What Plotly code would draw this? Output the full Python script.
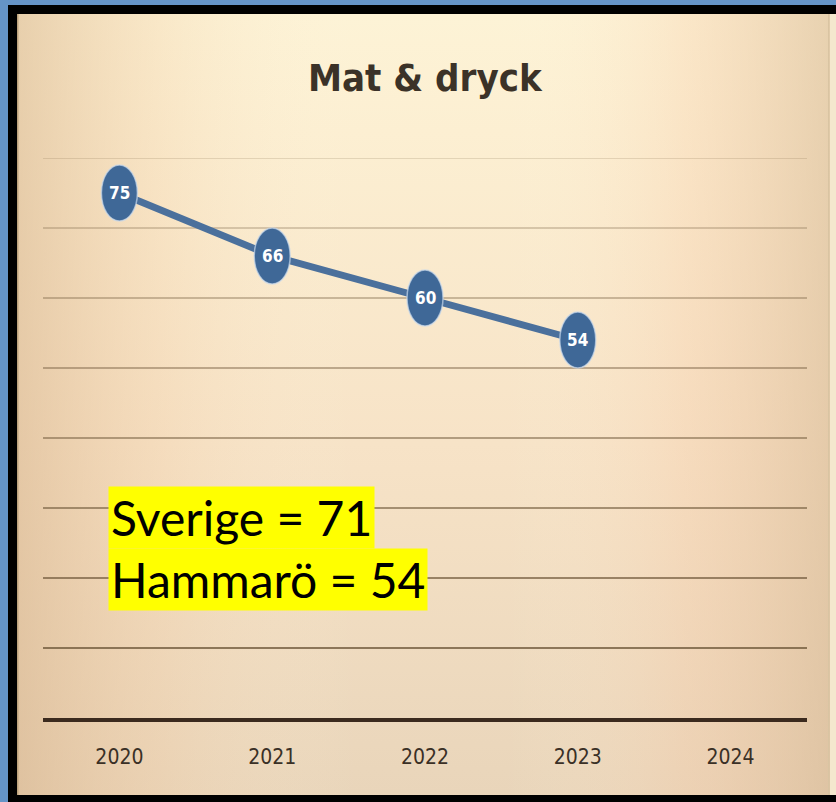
import plotly.graph_objects as go

# ---- data ----
years = ["2020", "2021", "2022", "2023", "2024"]
values = [75, 66, 60, 54, None]
title_text = "Mat & dryck"
note_lines = ["Sverige = 71", "Hammarö = 54"]
grid_values = [10, 20, 30, 40, 50, 60, 70, 80]

W, H = 836, 802


def px(x):
    return x / W


def py(y):
    return 1 - y / H


NARROW = "Liberation Sans Narrow, DejaVu Sans Condensed, Arial Narrow, sans-serif"

fig = go.Figure()

# ---- background gradient (full-paper helper subplot) ----
bx0, bx1 = px(17), px(830)
by0, by1 = py(795), py(14)
rect_x = [bx0, bx1, bx1, bx0, bx0]
rect_y = [by0, by0, by1, by1, by0]
fig.add_trace(go.Scatter(
    x=rect_x, y=rect_y, fill="toself", mode="lines", line=dict(width=0),
    fillgradient=dict(type="vertical", start=by0, stop=by1,
                      colorscale=[[0, "#e9d5ba"], [0.45, "#f7e3c7"], [0.85, "#fcefd2"], [1, "#fdf3d6"]]),
    hoverinfo="skip", showlegend=False, xaxis="x", yaxis="y"))
fig.add_trace(go.Scatter(
    x=rect_x, y=rect_y, fill="toself", mode="lines", line=dict(width=0),
    fillgradient=dict(type="horizontal", start=bx0, stop=bx1,
                      colorscale=[[0, "rgba(214,178,138,0.55)"], [0.18, "rgba(238,200,160,0.25)"],
                                  [0.42, "rgba(255,250,230,0.0)"], [0.6, "rgba(255,250,230,0.0)"],
                                  [0.82, "rgba(245,200,165,0.28)"], [1, "rgba(214,182,145,0.55)"]]),
    hoverinfo="skip", showlegend=False, xaxis="x", yaxis="y"))

# ---- data line ----
fig.add_trace(go.Scatter(
    x=years, y=values, mode="lines",
    line=dict(color="#4b709c", width=7),
    hoverinfo="skip", showlegend=False, xaxis="x2", yaxis="y2"))

shapes = []
# frame
shapes.append(dict(type="rect", xref="paper", yref="paper", x0=0, x1=px(8), y0=0, y1=1,
                   fillcolor="#6594c7", line=dict(width=0), layer="below"))
shapes.append(dict(type="rect", xref="paper", yref="paper", x0=0, x1=1, y0=py(5), y1=1,
                   fillcolor="#6594c7", line=dict(width=0), layer="below"))
shapes.append(dict(type="rect", xref="paper", yref="paper", x0=px(830), x1=1, y0=py(795), y1=py(14),
                   fillcolor="#f4e8ce", line=dict(width=0), layer="below"))
shapes.append(dict(type="rect", xref="paper", yref="paper", x0=px(17), x1=px(18.5), y0=py(795), y1=py(14),
                   fillcolor="#bca27c", line=dict(width=0), layer="above"))
shapes.append(dict(type="rect", xref="paper", yref="paper", x0=px(828), x1=px(829.5), y0=py(795), y1=py(14),
                   fillcolor="#d9c4a2", line=dict(width=0), layer="above"))

# gridlines (fade toward top)
for g in grid_values:
    a = 0.8 - 0.62 * (g - 10) / 70
    shapes.append(dict(type="line", xref="x2", yref="y2", x0=-0.5, x1=4.5, y0=g, y1=g,
                       line=dict(color=f"rgba(115,92,62,{a:.2f})", width=2), layer="below"))

# ellipse markers (anchored at each data point through the axes)
for i, v in enumerate(values):
    if v is None:
        continue
    shapes.append(dict(type="circle", xref="x2", yref="y2",
                       xsizemode="pixel", ysizemode="pixel",
                       xanchor=i, yanchor=v, x0=-18, x1=18, y0=-28, y1=28,
                       fillcolor="#3f6897", line=dict(color="rgba(200,216,236,0.7)", width=1.5),
                       layer="above"))

annotations = []
for i, v in enumerate(values):
    if v is None:
        continue
    annotations.append(dict(x=i, y=v, xref="x2", yref="y2", text=str(v), showarrow=False,
                            font=dict(family=NARROW, size=17, color="#ffffff", weight="bold"),
                            xanchor="center", yanchor="middle"))

annotations.append(dict(x=px(425), y=py(78), xref="paper", yref="paper", text=title_text,
                        showarrow=False, xanchor="center", yanchor="middle",
                        font=dict(family=NARROW, size=38, color="#3b3228", weight="bold")))

note_tops = [486, 548]
for line_text, top in zip(note_lines, note_tops):
    annotations.append(dict(x=px(108), y=py(top), xref="paper", yref="paper", text=line_text,
                            showarrow=False, xanchor="left", yanchor="top", align="left",
                            bgcolor="#ffff00", borderpad=2,
                            font=dict(family="Lato, Carlito, Calibri, sans-serif", size=48, color="#000000")))

fig.update_layout(
    width=W, height=H, autosize=False,
    margin=dict(l=0, r=0, t=0, b=0),
    paper_bgcolor="#000000", plot_bgcolor="rgba(0,0,0,0)",
    showlegend=False,
    xaxis=dict(domain=[0, 1], range=[0, 1], visible=False, fixedrange=True),
    yaxis=dict(domain=[0, 1], range=[0, 1], visible=False, fixedrange=True),
    xaxis2=dict(domain=[px(43), px(807)], anchor="y2", type="category",
                categoryorder="array", categoryarray=years, range=[-0.5, 4.5],
                showgrid=False, zeroline=False, showline=True, linewidth=4, linecolor="#3b2a1e",
                ticks="", ticklabelstandoff=17,
                tickfont=dict(family=NARROW, size=21, color="#3a3026")),
    yaxis2=dict(domain=[py(718), py(158)], anchor="x2", range=[0, 80], visible=False),
    shapes=shapes, annotations=annotations,
)

fig.write_html("out.html", config={"displayModeBar": False},
               post_script="document.body.style.margin='0';document.body.style.overflow='hidden';")
